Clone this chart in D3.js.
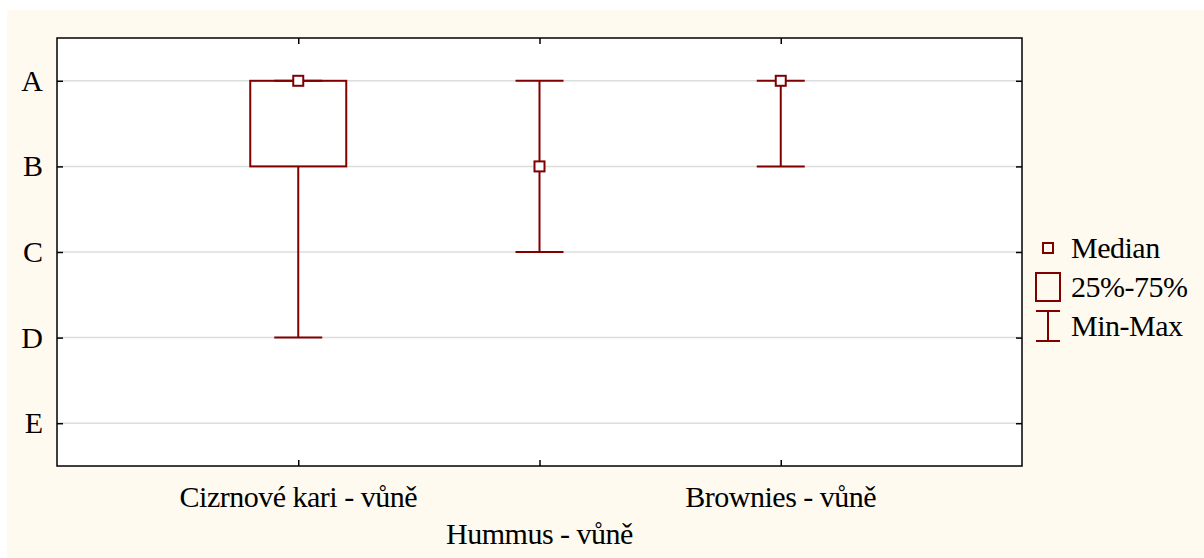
<!DOCTYPE html>
<html>
<head>
<meta charset="utf-8">
<script src="https://cdn.jsdelivr.net/npm/d3@7"></script>
<style>
  html, body { margin: 0; padding: 0; background: #ffffff; }
  svg { display: block; }
  text { font-family: "Liberation Serif", "Times New Roman", serif; fill: #000; }
</style>
</head>
<body>
<div id="chart"></div>
<script>
// Ordinal scale levels (top to bottom)
const levels = ["A", "B", "C", "D", "E"];

// Categories along the x axis
const categories = ["Cizrnové kari - vůně", "Hummus - vůně", "Brownies - vůně"];

// Box-plot summaries per category
const medians = ["A", "B", "A"];
const q1s = ["B", "B", "A"];
const q3s = ["A", "B", "A"];
const mins = ["D", "C", "B"];
const maxs = ["A", "A", "A"];

// Legend entries
const legendLabels = ["Median", "25%-75%", "Min-Max"];

const width = 1204;
const height = 558;
const marginTop = 38;
const marginRight = 182;
const marginBottom = 92;
const marginLeft = 57;
const red = "#800000";
const fontSize = 30;

const data = categories.map((c, i) => ({
    cat: c,
    median: medians[i],
    q1: q1s[i],
    q3: q3s[i],
    min: mins[i],
    max: maxs[i]
}));

const x = d3.scalePoint()
    .domain(categories)
    .range([marginLeft, width - marginRight])
    .padding(1);

const y = d3.scalePoint()
    .domain(levels)
    .range([marginTop, height - marginBottom])
    .padding(0.5);

const svg = d3.select("#chart").append("svg")
    .attr("width", width)
    .attr("height", height);

// cream page background
svg.append("rect")
    .attr("x", 7).attr("y", 10)
    .attr("width", width - 7).attr("height", height - 10)
    .attr("fill", "#fffaf0");

// plot area
svg.append("rect")
    .attr("x", marginLeft).attr("y", marginTop)
    .attr("width", width - marginRight - marginLeft)
    .attr("height", height - marginBottom - marginTop)
    .attr("fill", "#ffffff");

// gridlines
svg.append("g")
    .selectAll("line")
    .data(levels)
    .join("line")
    .attr("x1", marginLeft).attr("x2", width - marginRight)
    .attr("y1", d => y(d)).attr("y2", d => y(d))
    .attr("stroke", "#dcdcdc")
    .attr("stroke-width", 1.5);

// axes
const axisStyle = g => {
    g.select(".domain").remove();
    g.selectAll(".tick line").attr("stroke", "#000").attr("stroke-width", 1.5);
};

svg.append("g")
    .attr("transform", `translate(${marginLeft},0)`)
    .call(d3.axisRight(y).tickSize(6).tickFormat(""))
    .call(axisStyle);

svg.append("g")
    .attr("transform", `translate(${width - marginRight},0)`)
    .call(d3.axisLeft(y).tickSize(6).tickFormat(""))
    .call(axisStyle);

svg.append("g")
    .attr("transform", `translate(0,${marginTop})`)
    .call(d3.axisBottom(x).tickSize(6).tickFormat(""))
    .call(axisStyle);

svg.append("g")
    .attr("transform", `translate(0,${height - marginBottom})`)
    .call(d3.axisTop(x).tickSize(6).tickFormat(""))
    .call(axisStyle);

// frame
svg.append("rect")
    .attr("x", marginLeft).attr("y", marginTop)
    .attr("width", width - marginRight - marginLeft)
    .attr("height", height - marginBottom - marginTop)
    .attr("fill", "none")
    .attr("stroke", "#000")
    .attr("stroke-width", 1.5);

// y labels
svg.append("g")
    .selectAll("text")
    .data(levels)
    .join("text")
    .attr("x", 43)
    .attr("y", d => y(d) + 10)
    .attr("text-anchor", "end")
    .attr("font-size", fontSize)
    .text(d => d);

// x labels (alternating rows)
svg.append("g")
    .selectAll("text")
    .data(categories)
    .join("text")
    .attr("x", d => x(d))
    .attr("y", (d, i) => i % 2 ? 544 : 507)
    .attr("text-anchor", "middle")
    .attr("font-size", fontSize)
    .attr("letter-spacing", -0.5)
    .text(d => d);

// boxes
const boxW = 48, capW = 24, med = 5;
const plot = svg.append("g").attr("fill", "none").attr("stroke", red).attr("stroke-width", 2);

const g = plot.selectAll("g")
    .data(data)
    .join("g");

g.filter(d => d.q1 !== d.q3)
    .append("rect")
    .attr("x", d => x(d.cat) - boxW)
    .attr("y", d => y(d.q3))
    .attr("width", boxW * 2)
    .attr("height", d => y(d.q1) - y(d.q3));

// whiskers
g.append("line")
    .attr("x1", d => x(d.cat)).attr("x2", d => x(d.cat))
    .attr("y1", d => y(d.q3)).attr("y2", d => y(d.max));
g.append("line")
    .attr("x1", d => x(d.cat)).attr("x2", d => x(d.cat))
    .attr("y1", d => y(d.q1)).attr("y2", d => y(d.min));
g.append("line")
    .attr("x1", d => x(d.cat) - capW).attr("x2", d => x(d.cat) + capW)
    .attr("y1", d => y(d.max)).attr("y2", d => y(d.max));
g.append("line")
    .attr("x1", d => x(d.cat) - capW).attr("x2", d => x(d.cat) + capW)
    .attr("y1", d => y(d.min)).attr("y2", d => y(d.min));

// medians
g.append("rect")
    .attr("x", d => x(d.cat) - med)
    .attr("y", d => y(d.median) - med)
    .attr("width", med * 2)
    .attr("height", med * 2)
    .attr("fill", "#ffffff");

// legend
const lg = svg.append("g");
const lx = 1048;
const rows = [248, 287, 326];

lg.append("rect")
    .attr("x", lx - 5).attr("y", rows[0] - 5)
    .attr("width", 10).attr("height", 10)
    .attr("fill", "none").attr("stroke", red).attr("stroke-width", 2);
lg.append("rect")
    .attr("x", lx - 12).attr("y", rows[1] - 14)
    .attr("width", 24).attr("height", 28)
    .attr("fill", "none").attr("stroke", red).attr("stroke-width", 2);
lg.append("path")
    .attr("d", `M${lx - 12},${rows[2] - 15}H${lx + 12}M${lx},${rows[2] - 15}V${rows[2] + 15}M${lx - 12},${rows[2] + 15}H${lx + 12}`)
    .attr("fill", "none").attr("stroke", red).attr("stroke-width", 2);

lg.selectAll("text")
    .data(legendLabels)
    .join("text")
    .attr("x", 1071)
    .attr("y", (d, i) => rows[i] + 10)
    .attr("font-size", fontSize)
    .attr("letter-spacing", -0.5)
    .text(d => d);
</script>
</body>
</html>
